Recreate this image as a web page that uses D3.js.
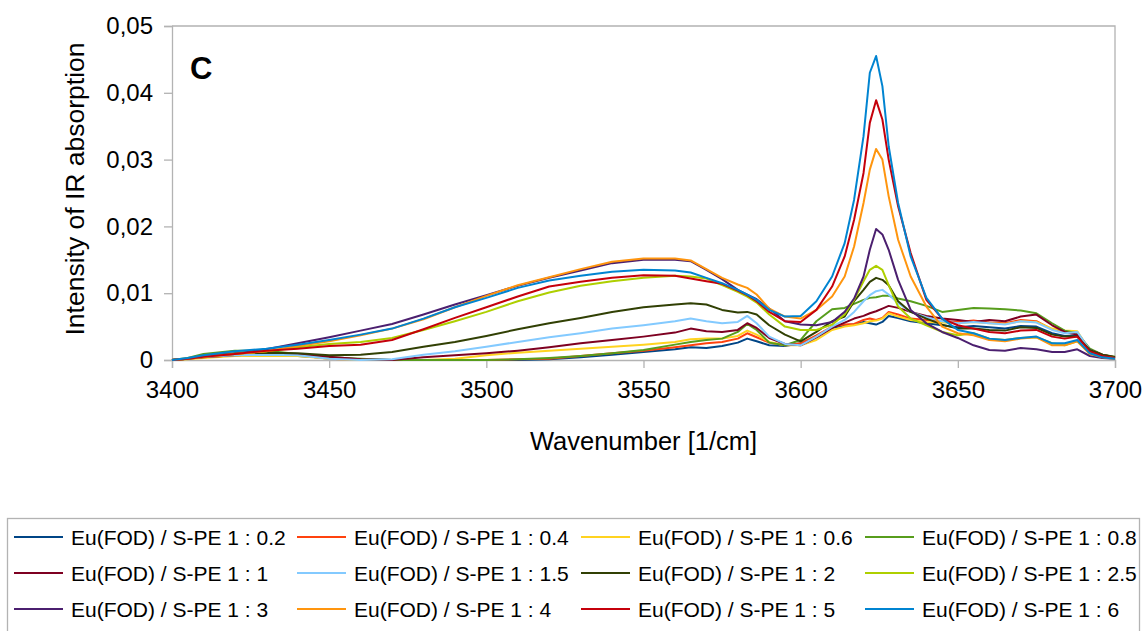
<!DOCTYPE html>
<html>
<head>
<meta charset="utf-8">
<script src="https://cdn.jsdelivr.net/npm/d3@7"></script>
<style>
  html, body { margin: 0; padding: 0; background: #ffffff; }
  svg { display: block; }
  text { font-family: "Liberation Sans", Arial, sans-serif; fill: #000; }
</style>
</head>
<body>
<svg id="chart" width="1145" height="631"></svg>
<script>
// Wavenumber grid [1/cm]
const wavenumbers = [3400, 3405, 3410, 3420, 3430, 3440, 3450, 3460, 3470, 3480, 3490, 3500, 3510, 3520, 3530, 3540, 3550, 3560, 3565, 3570, 3575, 3580, 3583, 3586, 3590, 3595, 3600, 3605, 3610, 3614, 3617, 3620, 3622, 3624, 3626, 3628, 3631, 3635, 3640, 3645, 3650, 3655, 3660, 3665, 3670, 3675, 3680, 3684, 3688, 3692, 3696, 3700];

// Absorption intensity for each Eu(FOD) / S-PE ratio
const ratio02 = [0, .0002, .0005, .0007, .0008, .0006, .0003, .0001, 0, 0, 0, 0, 0, .0001, .0004, .0008, .0012, .0016, .0019, .0018, .0021, .0026, .0032, .0028, .0022, .0021, .0025, .0035, .0048, .0052, .0053, .0057, .0055, .0053, .0057, .0066, .0063, .0058, .0055, .0052, .0049, .0051, .0049, .0047, .0051, .0050, .0040, .0036, .0037, .0014, .0006, .0003];
const ratio04 = [0, .0002, .0005, .0007, .0008, .0007, .0002, 0, 0, 0, 0, 0, .0001, .0002, .0006, .0010, .0014, .0019, .0022, .0025, .0027, .0032, .0040, .0034, .0026, .0022, .0025, .0037, .0050, .0053, .0054, .0060, .0062, .0060, .0063, .0072, .0068, .0062, .0060, .0058, .0057, .0059, .0056, .0055, .0060, .0058, .0046, .0042, .0041, .0015, .0007, .0003];
const ratio06 = [0, .0001, .0003, .0006, .0006, .0006, .0002, 0, 0, 0, .0002, .0007, .0011, .0014, .0017, .0020, .0023, .0027, .0031, .0032, .0032, .0036, .0044, .0038, .0027, .0022, .0022, .0030, .0045, .0050, .0052, .0055, .0058, .0059, .0062, .0070, .0065, .0060, .0057, .0056, .0055, .0057, .0055, .0054, .0058, .0057, .0047, .0044, .0043, .0014, .0006, .0003];
const ratio08 = [0, .0003, .0009, .0014, .0014, .0009, .0004, .0002, 0, 0, 0, 0, .0001, .0003, .0006, .0010, .0015, .0023, .0027, .0030, .0032, .0042, .0054, .0045, .0026, .0022, .0030, .0058, .0076, .0078, .0084, .0090, .0093, .0094, .0096, .0096, .0092, .0088, .0081, .0072, .0075, .0078, .0077, .0076, .0074, .0070, .0055, .0044, .0040, .0017, .0008, .0005];
const ratio1 = [0, .0002, .0004, .0007, .0009, .0009, .0005, .0001, 0, .0004, .0007, .0010, .0014, .0019, .0025, .0030, .0035, .0041, .0047, .0043, .0042, .0045, .0055, .0048, .0033, .0024, .0022, .0034, .0048, .0056, .0062, .0066, .0070, .0073, .0077, .0081, .0078, .0072, .0066, .0062, .0060, .0057, .0060, .0058, .0065, .0068, .0052, .0042, .0038, .0015, .0008, .0004];
const ratio15 = [0, .0002, .0005, .0007, .0008, .0007, .0002, 0, .0001, .0008, .0013, .0020, .0027, .0034, .0040, .0047, .0052, .0058, .0062, .0058, .0055, .0057, .0066, .0055, .0035, .0024, .0022, .0035, .0050, .0060, .0072, .0088, .0097, .0103, .0105, .0098, .0085, .0072, .0064, .0058, .0055, .0057, .0055, .0053, .0058, .0056, .0045, .0040, .0042, .0015, .0007, .0003];
const ratio2 = [0, .0002, .0006, .0010, .0011, .0010, .0007, .0008, .0012, .0020, .0027, .0036, .0046, .0055, .0063, .0072, .0079, .0083, .0085, .0083, .0075, .0071, .0072, .0068, .0052, .0038, .0028, .0042, .0058, .0065, .0088, .0105, .0117, .0123, .0120, .0112, .0088, .0072, .0062, .0053, .0047, .0047, .0045, .0044, .0049, .0048, .0038, .0035, .0035, .0015, .0008, .0004];
const ratio25 = [0, .0002, .0005, .0009, .0013, .0019, .0024, .0027, .0033, .0045, .0058, .0072, .0088, .0101, .0111, .0118, .0123, .0126, .0125, .0122, .0112, .0102, .0095, .0086, .0068, .0050, .0045, .0045, .0053, .0068, .0090, .0118, .0135, .0141, .0135, .0112, .0080, .0062, .0052, .0042, .0037, .0040, .0032, .0030, .0033, .0034, .0025, .0022, .0028, .0010, .0005, .0003];
const ratio3 = [0, .0002, .0006, .0009, .0016, .0025, .0034, .0044, .0054, .0068, .0083, .0097, .0111, .0123, .0134, .0145, .0150, .0150, .0148, .0135, .0121, .0105, .0098, .0091, .0077, .0058, .0053, .0052, .0057, .0072, .0092, .0125, .0165, .0196, .0188, .0165, .0120, .0075, .0055, .0042, .0033, .0022, .0015, .0014, .0018, .0016, .0012, .0012, .0016, .0006, .0003, .0002];
const ratio4 = [0, .0002, .0005, .0009, .0013, .0021, .0028, .0037, .0047, .0061, .0079, .0096, .0112, .0124, .0136, .0147, .0152, .0152, .0149, .0136, .0123, .0113, .0108, .0098, .0077, .0065, .0062, .0075, .0095, .0125, .0170, .0235, .0285, .0316, .0300, .0245, .0180, .0125, .0080, .0050, .0040, .0037, .0030, .0028, .0032, .0034, .0022, .0022, .0028, .0009, .0004, .0002];
const ratio5 = [0, .0002, .0005, .0009, .0014, .0017, .0021, .0023, .0030, .0046, .0063, .0079, .0095, .0110, .0117, .0123, .0127, .0126, .0122, .0118, .0114, .0104, .0097, .0088, .0072, .0058, .0057, .0075, .0110, .0155, .0210, .0280, .0355, .0389, .0360, .0300, .0230, .0160, .0090, .0062, .0052, .0047, .0042, .0040, .0044, .0045, .0035, .0032, .0035, .0013, .0006, .0003];
const ratio6 = [0, .0003, .0007, .0013, .0017, .0023, .0030, .0038, .0047, .0062, .0079, .0093, .0108, .0119, .0126, .0132, .0135, .0134, .0131, .0123, .0115, .0105, .0098, .0090, .0075, .0065, .0066, .0088, .0125, .0175, .0240, .0335, .0430, .0455, .0410, .0320, .0235, .0155, .0093, .0062, .0045, .0040, .0032, .0030, .0033, .0035, .0025, .0025, .0030, .0010, .0004, .0002];

const seriesLabels = ["Eu(FOD) / S-PE 1 : 0.2", "Eu(FOD) / S-PE 1 : 0.4", "Eu(FOD) / S-PE 1 : 0.6", "Eu(FOD) / S-PE 1 : 0.8",
                      "Eu(FOD) / S-PE 1 : 1", "Eu(FOD) / S-PE 1 : 1.5", "Eu(FOD) / S-PE 1 : 2", "Eu(FOD) / S-PE 1 : 2.5",
                      "Eu(FOD) / S-PE 1 : 3", "Eu(FOD) / S-PE 1 : 4", "Eu(FOD) / S-PE 1 : 5", "Eu(FOD) / S-PE 1 : 6"];
const seriesValues = [ratio02, ratio04, ratio06, ratio08, ratio1, ratio15, ratio2, ratio25, ratio3, ratio4, ratio5, ratio6];
const seriesColors = ["#004586", "#ff420e", "#ffd320", "#579d1c", "#7e0021", "#83caff",
                      "#314004", "#aecf00", "#4b1f6f", "#ff950e", "#c5000b", "#0084d1"];

const xTicks = [3400, 3450, 3500, 3550, 3600, 3650, 3700];
const yTicks = [0, 0.01, 0.02, 0.03, 0.04, 0.05];

const svg = d3.select("#chart");
const plot = { left: 172, right: 1115, top: 26, bottom: 360 };
const axisColor = "#b3b3b3";
const tickFont = 24;
const titleFont = 25.5;

const x = d3.scaleLinear().domain([3400, 3700]).range([plot.left, plot.right]);
const y = d3.scaleLinear().domain([0, 0.05]).range([plot.bottom, plot.top]);

const locale = d3.formatLocale({ decimal: ",", thousands: ".", grouping: [3], currency: ["", ""] });
const fmt2 = locale.format(".2f");
const yFormat = d => d === 0 ? "0" : fmt2(d);

// Plot frame: top and right edges
svg.append("path")
  .attr("d", `M${plot.left},${plot.top}H${plot.right}V${plot.bottom}`)
  .attr("fill", "none").attr("stroke", axisColor).attr("stroke-width", 1.3);

// Y axis
const yAxis = svg.append("g")
  .attr("transform", `translate(${plot.left},0)`)
  .call(d3.axisLeft(y).tickValues(yTicks).tickFormat(yFormat).tickSize(8).tickPadding(11));
yAxis.select(".domain").attr("stroke", axisColor).attr("stroke-width", 1.3);
yAxis.selectAll(".tick line").attr("stroke", axisColor).attr("stroke-width", 1.3);
yAxis.selectAll(".tick text").attr("font-size", tickFont).attr("font-family", "Liberation Sans, Arial, sans-serif").attr("fill", "#000");

// X axis
const xAxis = svg.append("g")
  .attr("transform", `translate(0,${plot.bottom})`)
  .call(d3.axisBottom(x).tickValues(xTicks).tickFormat(d3.format("d")).tickSize(8).tickPadding(13));
xAxis.select(".domain").attr("stroke", axisColor).attr("stroke-width", 1.3);
xAxis.selectAll(".tick line").attr("stroke", axisColor).attr("stroke-width", 1.3);
xAxis.selectAll(".tick text").attr("font-size", tickFont).attr("font-family", "Liberation Sans, Arial, sans-serif").attr("fill", "#000");

// Axis titles
svg.append("text")
  .attr("x", (plot.left + plot.right) / 2).attr("y", 450)
  .attr("text-anchor", "middle").attr("font-size", titleFont)
  .text("Wavenumber [1/cm]");

svg.append("text")
  .attr("transform", `translate(84,${(plot.top + plot.bottom) / 2 - 4}) rotate(-90)`)
  .attr("text-anchor", "middle").attr("font-size", 26.5)
  .text("Intensity of IR absorption");

// Panel letter
svg.append("text")
  .attr("x", 190).attr("y", 79)
  .attr("font-size", 31).attr("font-weight", "bold")
  .text("C");

// Spectra
const line = d3.line()
  .x((d, i) => x(wavenumbers[i]))
  .y(d => y(d));

svg.append("g")
  .selectAll("path")
  .data(seriesValues)
  .join("path")
  .attr("d", d => line(d))
  .attr("fill", "none")
  .attr("stroke", (d, i) => seriesColors[i])
  .attr("stroke-width", 2)
  .attr("stroke-linejoin", "round");

// Legend
const legend = svg.append("g");
legend.append("rect")
  .attr("x", 7.5).attr("y", 518.5).attr("width", 1132).attr("height", 120)
  .attr("fill", "#fff").attr("stroke", axisColor).attr("stroke-width", 1.3);

const colX = [14, 297, 581, 865];
const rowY = [537, 573, 609];
seriesLabels.forEach((label, i) => {
  const cx = colX[i % 4], cy = rowY[Math.floor(i / 4)];
  legend.append("line")
    .attr("x1", cx).attr("x2", cx + 49).attr("y1", cy).attr("y2", cy)
    .attr("stroke", seriesColors[i]).attr("stroke-width", 2);
  legend.append("text")
    .attr("x", cx + 57).attr("y", cy).attr("dy", "0.36em")
    .attr("font-size", 21)
    .text(label);
});
</script>
</body>
</html>
